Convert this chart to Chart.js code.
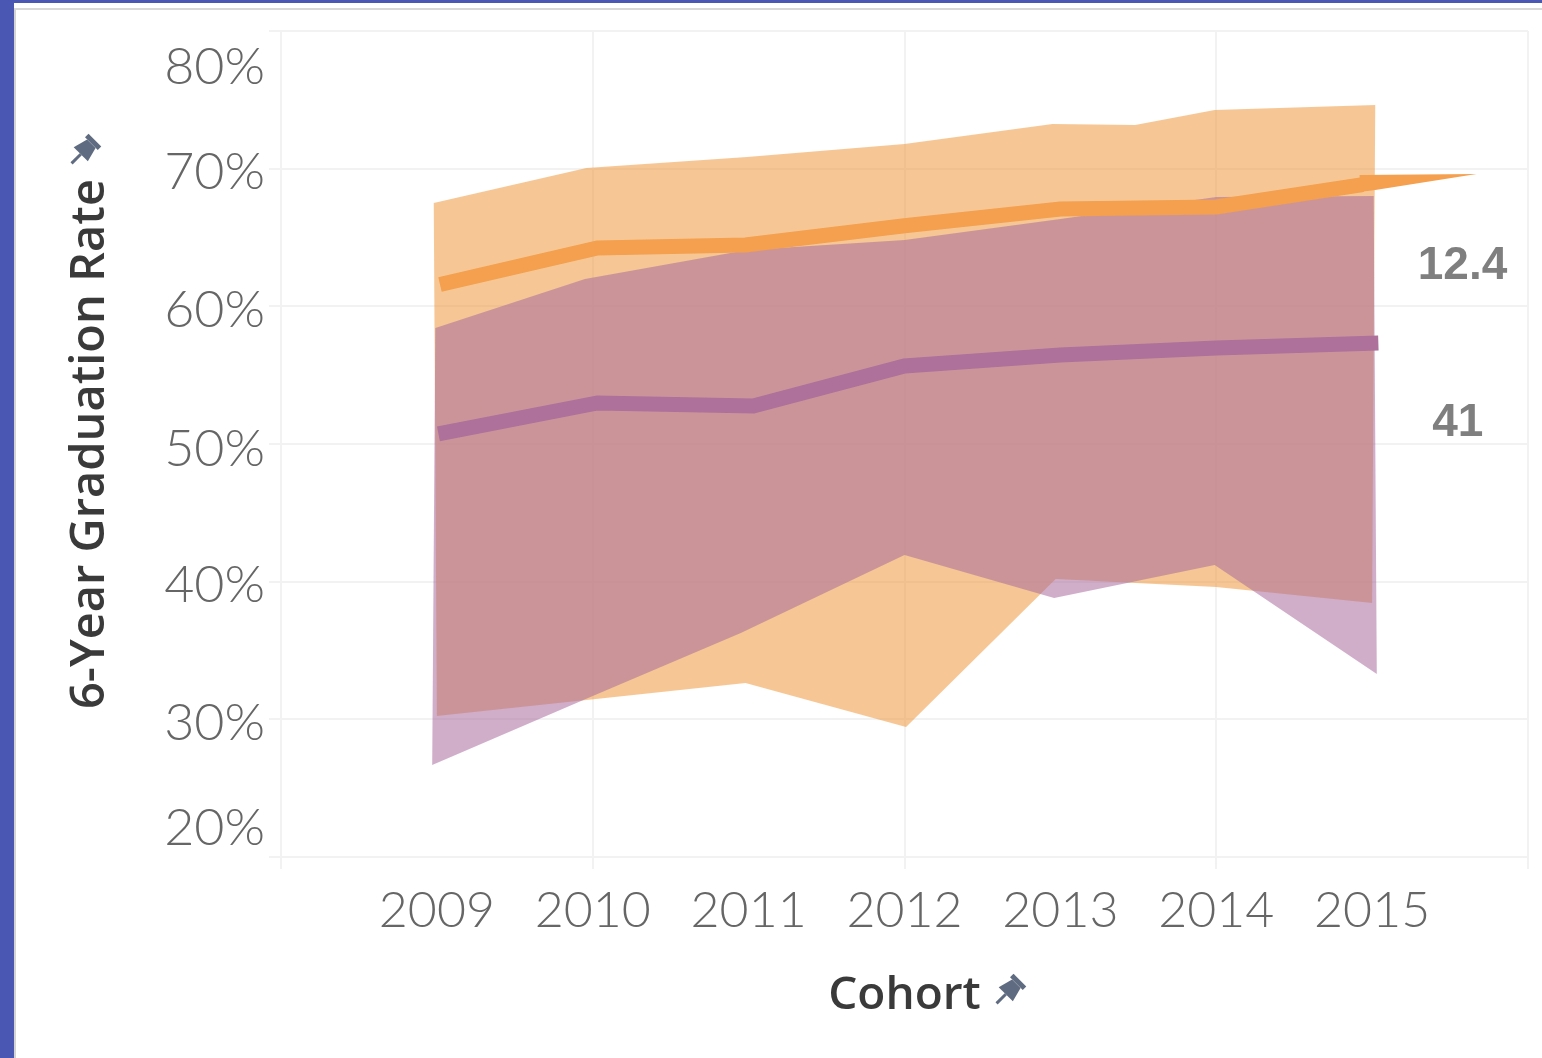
<!DOCTYPE html>
<html>
<head>
<meta charset="utf-8">
<title>6-Year Graduation Rate</title>
<script src="https://cdn.jsdelivr.net/npm/chart.js@4"></script>
<style>
  html, body { margin: 0; padding: 0; background: #4a57b3; overflow: hidden; }
  #folha { position: absolute; left: 14px; top: 3px; width: 1528px; height: 1055px; background: #fff; }
  #folha div { position: absolute; left: 0; top: 5px; width: 100%; height: 100%; border-top: 2px solid #d8d8d8; border-left: 2px solid #d4d4d4; }
  #grafico { position: absolute; left: 0; top: 0; }
</style>
</head>
<body>
<div id="folha"><div></div></div>
<canvas id="grafico" width="1542" height="1058"></canvas>

<script>
// dados
const cohorts = [2009, 2010, 2011, 2012, 2013, 2014, 2015];
const yTicks = ['20%', '30%', '40%', '50%', '60%', '70%', '80%'];

// faixa laranja (limite superior e inferior)
const orangeUpperX = [2008.98, 2009.96, 2010.99, 2012.00, 2012.95, 2013.48, 2013.99, 2015.02];
const orangeUpperY = [67.51, 70.05, 70.85, 71.79, 73.24, 73.17, 74.26, 74.62];
const orangeLowerX = [2009.00, 2010.98, 2012.01, 2012.97, 2014.00, 2015.00];
const orangeLowerY = [30.24, 32.64, 29.44, 40.19, 39.61, 38.45];

// faixa roxa
const purpleUpperX = [2008.99, 2009.95, 2010.99, 2012.00, 2013.00, 2014.00, 2015.01];
const purpleUpperY = [58.43, 61.99, 64.09, 64.82, 66.34, 67.94, 68.01];
const purpleLowerX = [2008.97, 2009.94, 2010.95, 2012.00, 2012.96, 2013.99, 2015.03];
const purpleLowerY = [26.68, 31.40, 36.27, 41.94, 38.81, 41.21, 33.29];

// linhas centrais
const orangeLineX = [2009.02, 2010.03, 2010.98, 2012.00, 2013.00, 2014.00, 2014.94];
const orangeLineY = [61.59, 64.24, 64.46, 65.85, 67.07, 67.22, 68.84];
const purpleLineX = [2009.01, 2010.03, 2011.03, 2012.00, 2013.00, 2014.00, 2015.04];
const purpleLineY = [50.73, 52.98, 52.76, 55.67, 56.46, 56.97, 57.34];

// a ponta da linha laranja
const orangeTipX = [2014.92, 2015.67, 2015.02, 2014.92];
const orangeTipY = [69.54, 69.61, 68.45, 68.30];

// rótulos à direita
const endLabels = ['12.4', '41'];
const endLabelX = [2015.58, 2015.55];
const endLabelY = [62.92, 51.52];

// deslocamento de cada rótulo do eixo y em relação à grade (20% ... 80%)
const yLabelShift = [-29, 4, 4, 5, 4, 4, 36];

function pontos(xs, ys) {
  return xs.map((x, i) => ({ x: x, y: ys[i] }));
}

// sobe por um limite e volta pelo outro
function faixa(upX, upY, lowX, lowY) {
  return pontos(upX, upY).concat(pontos(lowX, lowY).reverse());
}

function area(data, cor) {
  return { data: data, backgroundColor: cor, borderWidth: 0, fill: 'shape', pointRadius: 0, tension: 0 };
}

function linha(data, cor) {
  return { data: data, borderColor: cor, borderWidth: 15, borderCapStyle: 'butt', borderJoinStyle: 'miter', fill: false, pointRadius: 0, tension: 0 };
}

function desenhaPino(ctx, x, y) {
  ctx.save();
  ctx.translate(x, y);
  ctx.rotate(Math.PI / 4);
  ctx.fillStyle = '#5f6b80';
  ctx.fillRect(-9, -14, 18, 5);
  ctx.beginPath();
  ctx.moveTo(-6, -9);
  ctx.lineTo(6, -9);
  ctx.lineTo(10, 6);
  ctx.lineTo(-10, 6);
  ctx.closePath();
  ctx.fill();
  ctx.fillRect(-1.5, 6, 3, 13);
  ctx.restore();
}

const extras = {
  id: 'extras',
  afterUpdate(chart) {
    // os rótulos 20% e 80% ficam para dentro, como no original
    chart.scales.y.getLabelItems().forEach((item, i) => {
      item.options.translation[1] += yLabelShift[i];
    });
  },
  afterDraw(chart) {
    const ctx = chart.ctx;
    ctx.save();
    ctx.font = 'bold 46px "Liberation Sans"';
    ctx.fillStyle = '#7f7f7f';
    ctx.textAlign = 'center';
    ctx.textBaseline = 'middle';
    endLabels.forEach((txt, i) => {
      ctx.fillText(txt, chart.scales.x.getPixelForValue(endLabelX[i]), chart.scales.y.getPixelForValue(endLabelY[i]));
    });
    ctx.restore();
    desenhaPino(ctx, 85, 150);
    desenhaPino(ctx, 1010, 990);
  }
};

const corGrade = '#f2f2f2';

new Chart(document.getElementById('grafico'), {
  type: 'line',
  data: {
    datasets: [
      linha(pontos(purpleLineX, purpleLineY), '#ad719b'),
      area(pontos(orangeTipX, orangeTipY), '#f4a04f'),
      linha(pontos(orangeLineX, orangeLineY), '#f4a04f'),
      area(faixa(purpleUpperX, purpleUpperY, purpleLowerX, purpleLowerY), 'rgba(170, 108, 158, 0.55)'),
      area(faixa(orangeUpperX, orangeUpperY, orangeLowerX, orangeLowerY), 'rgba(237, 143, 43, 0.5)')
    ]
  },
  options: {
    responsive: false,
    animation: false,
    layout: { padding: { left: 0, top: 31, right: 14, bottom: 0 } },
    plugins: { legend: { display: false }, tooltip: { enabled: false } },
    scales: {
      x: {
        type: 'linear',
        min: 2008,
        max: 2016,
        afterFit: s => { s.height = 201; s.paddingLeft = 0; s.paddingRight = 0; },
        afterBuildTicks: s => { s.ticks = s.ticks.filter(t => Number.isInteger(t.value)); },
        border: { display: false },
        grid: {
          lineWidth: 2,
          tickLength: 12,
          color: c => (c.tick && c.tick.value % 2 === 0 ? corGrade : 'rgba(0,0,0,0)')
        },
        ticks: {
          stepSize: 1,
          autoSkip: false,
          maxRotation: 0,
          padding: 12,
          color: '#666666',
          font: { family: 'Lato', size: 50, weight: 300 },
          callback: v => (cohorts.includes(v) ? String(v) : '')
        },
        title: {
          display: true,
          text: 'Cohort',
          color: '#3a3a3a',
          font: { family: 'Open Sans', size: 46, weight: 600 },
          padding: { top: 0, bottom: 35 }
        }
      },
      y: {
        type: 'linear',
        min: 20,
        max: 80,
        afterFit: s => { s.width = 281; s.paddingTop = 0; s.paddingBottom = 0; },
        border: { display: false },
        grid: { color: corGrade, lineWidth: 2, tickLength: 12 },
        ticks: {
          stepSize: 10,
          padding: 4,
          color: '#666666',
          font: { family: 'Lato', size: 52, weight: 300 },
          callback: v => yTicks[(v - 20) / 10]
        },
        title: {
          display: true,
          text: '6-Year Graduation Rate',
          color: '#3a3a3a',
          font: { family: 'Open Sans', size: 47, weight: 600 },
          padding: { top: 62, bottom: 0 }
        }
      }
    }
  },
  plugins: [extras]
});
</script>
</body>
</html>
